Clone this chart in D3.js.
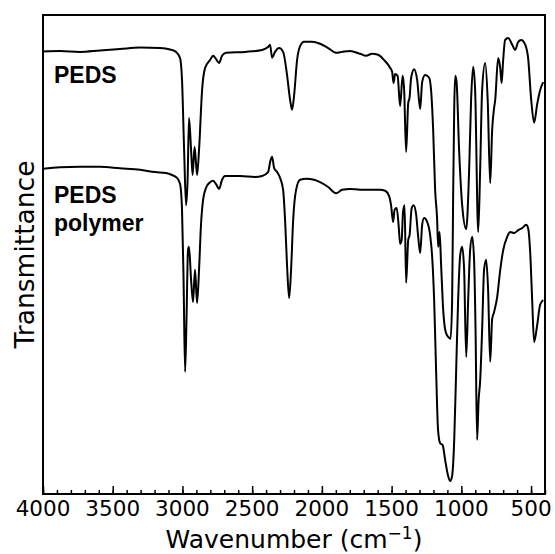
<!DOCTYPE html>
<html>
<head>
<meta charset="utf-8">
<script src="https://cdn.jsdelivr.net/npm/d3@7"></script>
<style>
body { margin: 0; background: #fff; }
svg text { font-family: "DejaVu Sans", sans-serif; }
</style>
</head>
<body>
<div id="chart"></div>
<script>
// spectra: wavenumber (cm-1) and transmittance (arbitrary, stacked)
var pedsWn = [4000,3878,3735,3591,3448,3304,3161,3089,3046,3017,3003,2988,2974,2963,2953,2938,2927,2913,2895,2881,2859,2838,2802,2780,2759,2737,2716,2687,2551,2429,2386,2372,2357,2336,2307,2278,2250,2228,2214,2199,2178,2156,2128,2070,2013,1955,1898,1855,1798,1726,1683,1640,1597,1554,1511,1496,1486,1475,1457,1439,1421,1410,1396,1381,1371,1360,1338,1317,1295,1281,1260,1231,1217,1202,1188,1174,1166,1156,1145,1130,1112,1094,1077,1066,1059,1051,1044,1034,1016,994,965,944,930,915,901,879,865,851,829,811,793,779,765,757,736,721,711,700,686,664,635,614,592,571,542,521,499,478,456,435,413];
var pedsT = [92.4,92.5,92.3,92.6,92.9,93.2,93.1,92.8,92.3,91.0,86.4,71.8,60.3,65.6,78.5,71.8,66.6,72.5,66.6,71.8,84.4,88.9,90.6,91.5,90.8,90.0,91.5,92.1,92.3,92.7,93.3,93.8,91.1,92.3,93.1,92.3,87.5,82.3,80.2,83.3,90.6,93.5,94.4,94.4,94.0,93.1,92.1,92.3,92.5,91.9,91.5,91.9,91.7,90.6,89.0,88.1,85.8,87.7,87.3,81.0,87.3,84.3,71.4,81.6,82.8,86.9,88.7,86.5,80.4,86.0,87.5,86.9,84.3,76.0,63.5,57.6,51.6,54.7,47.8,38.4,33.8,32.8,32.4,40.5,61.4,80.6,87.3,86.0,71.8,60.3,55.3,67.7,82.3,89.2,84.3,54.7,67.7,84.3,90.0,82.3,64.9,76.0,80.6,82.3,91.0,88.9,85.8,90.6,94.8,95.2,93.8,92.7,94.4,94.8,93.8,91.0,82.3,77.5,81.4,84.3,86.0];

var polyWn = [4000,3878,3735,3591,3448,3304,3196,3118,3075,3039,3017,3003,2992,2981,2971,2960,2953,2938,2924,2910,2895,2881,2867,2852,2831,2802,2780,2759,2737,2716,2694,2587,2479,2429,2386,2368,2357,2343,2321,2300,2278,2264,2250,2235,2221,2206,2185,2156,2113,2056,2013,1955,1898,1855,1798,1726,1654,1582,1547,1518,1504,1489,1479,1464,1450,1439,1428,1418,1407,1396,1381,1371,1356,1342,1324,1310,1295,1281,1267,1245,1224,1210,1195,1181,1167,1152,1134,1116,1095,1080,1066,1051,1037,1023,1008,994,980,965,951,937,922,908,898,887,876,865,851,837,822,808,793,779,765,743,721,700,671,650,621,592,564,535,521,507,492,478,456,435,413];
var polyT = [67.9,68.2,68.3,68.3,68.0,67.7,67.2,67.0,66.6,66.0,64.7,59.3,44.7,25.5,36.3,50.9,51.6,44.7,40.1,46.8,39.9,46.8,56.2,61.4,63.9,65.1,65.4,64.7,63.7,65.6,66.4,66.4,66.2,66.4,67.2,69.7,70.4,68.1,67.2,66.0,63.5,57.2,47.8,40.9,46.8,57.2,63.5,65.6,65.8,65.6,65.1,64.1,62.8,63.5,63.7,63.5,63.5,63.5,63.3,62.2,60.3,56.8,59.3,59.7,56.2,52.2,53.0,58.9,60.3,44.1,53.0,54.1,59.7,60.3,58.3,53.9,50.3,56.2,57.6,56.8,54.1,49.9,40.5,25.9,13.4,10.6,10.2,7.1,3.8,2.7,3.8,11.3,25.9,40.5,49.9,51.6,46.8,28.6,40.5,50.9,53.7,48.4,34.2,11.3,19.6,23.6,34.2,46.8,48.9,42.6,27.6,36.5,38.0,41.1,46.8,50.9,53.7,54.7,54.5,55.1,55.5,56.2,55.5,50.9,40.5,31.7,35.3,39.5,40.5];

var majorTicks = [4000,3500,3000,2500,2000,1500,1000,500];
var minorTicks = d3.range(4000, 399, -100);

var width = 555, height = 554;
var margin = {top: 15, right: 10, bottom: 60, left: 43};

var svg = d3.select("#chart").append("svg")
    .attr("width", width).attr("height", height);

var x = d3.scaleLinear().domain([4000, 400]).range([margin.left, width - margin.right]);
var y = d3.scaleLinear().domain([0, 100]).range([height - margin.bottom, margin.top]);

var line = d3.line()
    .x(function(d) { return x(d[0]); })
    .y(function(d) { return y(d[1]); })
    .curve(d3.curveMonotoneX);

var series = [d3.zip(pedsWn, pedsT), d3.zip(polyWn, polyT)];

svg.selectAll(".spec")
    .data(series)
    .enter().append("path")
    .attr("class", "spec")
    .attr("d", line)
    .attr("fill", "none")
    .attr("stroke", "#000")
    .attr("stroke-width", 2)
    .attr("stroke-linejoin", "round");

// bottom axis, ticks pointing inward
var bottom = height - margin.bottom;
svg.append("g")
    .attr("transform", "translate(0," + bottom + ")")
    .call(d3.axisTop(x).tickValues(minorTicks).tickSize(4).tickFormat(""))
    .call(function(g) { g.select(".domain").remove(); g.selectAll("line").attr("stroke-width", 1.5); });

svg.append("g")
    .attr("transform", "translate(0," + bottom + ")")
    .call(d3.axisTop(x).tickValues(majorTicks).tickSize(8).tickFormat(""))
    .call(function(g) { g.select(".domain").remove(); g.selectAll("line").attr("stroke-width", 1.5); });

svg.append("g")
    .selectAll("text")
    .data(majorTicks)
    .enter().append("text")
    .attr("x", function(d) { return x(d); })
    .attr("y", bottom + 22)
    .attr("text-anchor", "middle")
    .attr("font-size", 21.5)
    .attr("fill", "#000")
    .text(function(d) { return d; });

// frame
svg.append("rect")
    .attr("x", margin.left).attr("y", margin.top)
    .attr("width", width - margin.right - margin.left)
    .attr("height", bottom - margin.top)
    .attr("fill", "none")
    .attr("stroke", "#000")
    .attr("stroke-width", 2);

// axis titles
var xt = svg.append("text")
    .attr("x", (margin.left + width - margin.right) / 2)
    .attr("y", 548)
    .attr("text-anchor", "middle")
    .attr("font-size", 25)
    .attr("fill", "#000");
xt.append("tspan").text("Wavenumber (cm");
xt.append("tspan").attr("font-size", 17).attr("dy", -9).text("\u22121");
xt.append("tspan").attr("dy", 9).text(")");

svg.append("text")
    .attr("transform", "translate(34," + ((margin.top + bottom) / 2) + ") rotate(-90)")
    .attr("text-anchor", "middle")
    .attr("font-size", 26.5)
    .attr("fill", "#000")
    .text("Transmittance");

// spectrum labels
var lab = svg.append("g")
    .attr("font-weight", "bold")
    .attr("font-size", 23)
    .attr("fill", "#000");
lab.append("text").attr("x", 54).attr("y", 83).style("font-family", "Liberation Sans, Arial, sans-serif").text("PEDS");
lab.append("text").attr("x", 54).attr("y", 203).style("font-family", "Liberation Sans, Arial, sans-serif").text("PEDS");
lab.append("text").attr("x", 54).attr("y", 231).style("font-family", "Liberation Sans, Arial, sans-serif").text("polymer");
</script>
</body>
</html>
